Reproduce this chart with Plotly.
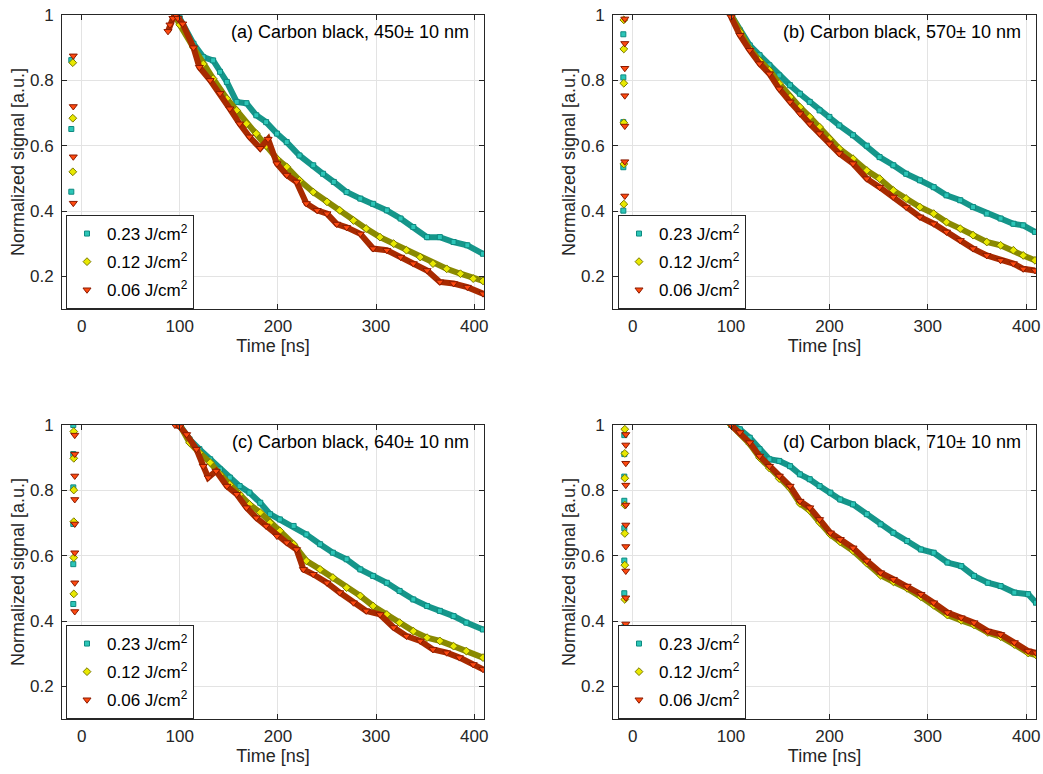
import plotly.graph_objects as go

# ---------------- data ----------------
series_names = ["0.23 J/cm<sup>2</sup>", "0.12 J/cm<sup>2</sup>", "0.06 J/cm<sup>2</sup>"]
panel_titles = ["(a) Carbon black, 450± 10 nm", "(b) Carbon black, 570± 10 nm",
                "(c) Carbon black, 640± 10 nm", "(d) Carbon black, 710± 10 nm"]
x_ticks = [0, 100, 200, 300, 400]
y_ticks = [0.2, 0.4, 0.6, 0.8, 1.0]
y_tick_labels = ["0.2", "0.4", "0.6", "0.8", "1"]

# panel (a)
a_teal_t = [96, 100, 114, 124, 134, 141, 148, 158, 168, 178, 188, 199, 209, 222, 236, 246, 257, 270, 284, 297, 311, 325, 338, 352, 365, 379, 393, 409]
a_teal_v = [0.995, 0.99, 0.912, 0.871, 0.861, 0.826, 0.795, 0.734, 0.73, 0.693, 0.672, 0.637, 0.611, 0.57, 0.54, 0.514, 0.489, 0.458, 0.438, 0.422, 0.402, 0.377, 0.351, 0.32, 0.32, 0.305, 0.295, 0.269]
a_olive_t = [95, 100, 114, 124, 134, 148, 158, 168, 178, 188, 199, 209, 222, 236, 250, 263, 277, 290, 304, 318, 331, 345, 358, 372, 386, 399, 409]
a_olive_v = [1.0, 0.97, 0.90, 0.85, 0.805, 0.744, 0.708, 0.667, 0.637, 0.60, 0.56, 0.535, 0.494, 0.458, 0.428, 0.402, 0.371, 0.346, 0.32, 0.30, 0.28, 0.259, 0.239, 0.223, 0.208, 0.193, 0.186]
a_red_t = [88, 90, 93, 96, 98, 103, 114, 120, 131, 141, 151, 161, 171, 182, 190, 199, 209, 219, 229, 240, 250, 260, 270, 284, 297, 311, 325, 338, 352, 365, 379, 393, 409]
a_red_v = [0.95, 0.97, 0.99, 1.0, 0.99, 0.973, 0.90, 0.84, 0.80, 0.76, 0.713, 0.667, 0.627, 0.592, 0.62, 0.545, 0.51, 0.489, 0.423, 0.402, 0.392, 0.36, 0.35, 0.33, 0.285, 0.28, 0.259, 0.239, 0.218, 0.183, 0.178, 0.167, 0.147]
a_teal_pre_t = [-10.5, -10.5, -10.5]
a_teal_pre_v = [0.862, 0.651, 0.459]
a_olive_pre_t = [-9, -9, -9, -9]
a_olive_pre_v = [0.854, 0.684, 0.52, 0.373]
a_red_pre_t = [-8.5, -8.5, -8.5, -8.5, -8.5]
a_red_pre_v = [0.875, 0.72, 0.566, 0.424, 0.11]

# panel (b)
b_t = [100, 109, 119, 129, 139, 149, 160, 170, 180, 190, 200, 210, 224, 238, 251, 265, 278, 292, 306, 319, 333, 346, 360, 374, 387, 397, 409]
b_teal_v = [1.0, 0.953, 0.907, 0.877, 0.846, 0.815, 0.785, 0.759, 0.734, 0.708, 0.688, 0.662, 0.632, 0.60, 0.565, 0.54, 0.514, 0.494, 0.473, 0.448, 0.433, 0.412, 0.392, 0.377, 0.361, 0.356, 0.336]
b_olive_v = [1.0, 0.948, 0.897, 0.861, 0.831, 0.79, 0.749, 0.718, 0.688, 0.657, 0.621, 0.591, 0.56, 0.524, 0.499, 0.463, 0.438, 0.412, 0.392, 0.366, 0.346, 0.326, 0.305, 0.295, 0.28, 0.264, 0.249]
b_red_v = [0.994, 0.938, 0.892, 0.851, 0.82, 0.774, 0.734, 0.698, 0.667, 0.637, 0.606, 0.576, 0.545, 0.499, 0.473, 0.443, 0.412, 0.382, 0.361, 0.336, 0.31, 0.285, 0.264, 0.249, 0.239, 0.223, 0.218]
b_teal_pre_t = [-9.5, -9.5, -9.5, -9.5, -9.5, -9.5]
b_teal_pre_v = [0.941, 0.809, 0.672, 0.534, 0.401, 0.10]
b_olive_pre_t = [-9, -9, -9, -9, -9, -9]
b_olive_pre_v = [0.985, 0.896, 0.791, 0.67, 0.544, 0.421]
b_red_pre_t = [-8, -8, -8, -8, -8, -8, -8]
b_red_pre_v = [0.988, 0.913, 0.837, 0.753, 0.66, 0.551, 0.446]

# panel (c)
c_t = [100, 110, 120, 131, 141, 151, 161, 171, 182, 192, 202, 216, 229, 243, 256, 270, 284, 297, 311, 324, 338, 352, 365, 379, 392, 409]
c_teal_v = [1.0, 0.956, 0.926, 0.895, 0.864, 0.839, 0.813, 0.793, 0.762, 0.727, 0.711, 0.691, 0.665, 0.635, 0.609, 0.589, 0.558, 0.538, 0.517, 0.492, 0.466, 0.446, 0.431, 0.415, 0.395, 0.374]
c_olive_v = [1.0, 0.946, 0.915, 0.885, 0.849, 0.818, 0.788, 0.757, 0.732, 0.701, 0.676, 0.635, 0.584, 0.558, 0.533, 0.502, 0.477, 0.446, 0.42, 0.395, 0.369, 0.349, 0.339, 0.323, 0.308, 0.288]
c_red_t = [95, 100, 107, 117, 124, 129, 137, 148, 158, 168, 178, 188, 199, 209, 219, 226, 236, 250, 263, 277, 290, 304, 318, 331, 345, 358, 372, 385, 399, 409]
c_red_v = [1.0, 0.995, 0.971, 0.926, 0.874, 0.839, 0.859, 0.813, 0.788, 0.747, 0.716, 0.691, 0.66, 0.64, 0.619, 0.558, 0.543, 0.517, 0.487, 0.456, 0.431, 0.42, 0.38, 0.354, 0.339, 0.313, 0.303, 0.288, 0.267, 0.252]
c_teal_pre_t = [-8.5, -8.5, -8.5, -8.5, -8.5, -8.5]
c_teal_pre_v = [1.0, 0.911, 0.809, 0.697, 0.574, 0.452]
c_olive_pre_t = [-8, -8, -8, -8, -8, -8, -8, -8]
c_olive_pre_v = [0.98, 0.898, 0.801, 0.704, 0.594, 0.483, 0.37, 0.097]
c_red_pre_t = [-7, -7, -7, -7, -7, -7, -7, -7, -7]
c_red_pre_v = [0.969, 0.911, 0.844, 0.772, 0.697, 0.609, 0.517, 0.429, 0.1]

# panel (d)
d_t = [100, 109, 119, 129, 139, 149, 160, 170, 180, 190, 201, 211, 224, 238, 252, 265, 279, 293, 306, 320, 334, 347, 361, 374, 388, 402, 410]
d_teal_v = [1.0, 0.987, 0.961, 0.926, 0.895, 0.89, 0.874, 0.849, 0.834, 0.813, 0.793, 0.772, 0.757, 0.727, 0.696, 0.67, 0.645, 0.619, 0.609, 0.579, 0.568, 0.538, 0.517, 0.507, 0.487, 0.482, 0.456]
d_olive_v = [1.0, 0.975, 0.942, 0.9, 0.868, 0.836, 0.806, 0.76, 0.738, 0.702, 0.665, 0.642, 0.615, 0.577, 0.54, 0.52, 0.5, 0.474, 0.448, 0.418, 0.402, 0.388, 0.365, 0.352, 0.328, 0.302, 0.296]
d_red_v = [1.0, 0.977, 0.946, 0.905, 0.874, 0.844, 0.813, 0.767, 0.747, 0.711, 0.67, 0.65, 0.624, 0.584, 0.548, 0.528, 0.507, 0.482, 0.456, 0.426, 0.41, 0.395, 0.369, 0.359, 0.334, 0.308, 0.303]
d_teal_pre_t = [-8.5] * 8
d_teal_pre_v = [0.969, 0.911, 0.842, 0.768, 0.684, 0.585, 0.485, 0.381]
d_olive_pre_t = [-8] * 9
d_olive_pre_v = [0.987, 0.913, 0.837, 0.755, 0.668, 0.571, 0.466, 0.374, 0.11]
d_red_pre_t = [-7] * 10
d_red_pre_v = [0.971, 0.939, 0.883, 0.816, 0.755, 0.694, 0.628, 0.553, 0.471, 0.391]

panels = [
    [(a_teal_pre_t, a_teal_pre_v, a_teal_t, a_teal_v),
     (a_olive_pre_t, a_olive_pre_v, a_olive_t, a_olive_v),
     (a_red_pre_t, a_red_pre_v, a_red_t, a_red_v)],
    [(b_teal_pre_t, b_teal_pre_v, b_t, b_teal_v),
     (b_olive_pre_t, b_olive_pre_v, b_t, b_olive_v),
     (b_red_pre_t, b_red_pre_v, b_t, b_red_v)],
    [(c_teal_pre_t, c_teal_pre_v, c_t, c_teal_v),
     (c_olive_pre_t, c_olive_pre_v, c_t, c_olive_v),
     (c_red_pre_t, c_red_pre_v, c_red_t, c_red_v)],
    [(d_teal_pre_t, d_teal_pre_v, d_t, d_teal_v),
     (d_olive_pre_t, d_olive_pre_v, d_t, d_olive_v),
     (d_red_pre_t, d_red_pre_v, d_t, d_red_v)],
]

# ---------------- styles ----------------
FONT = "Liberation Sans, Arial, Helvetica, sans-serif"
W, H = 1043, 774
styles = [
    dict(symbol="square", size=5, fill="#2cc6b8", edge="#0e8a80", band="#15968a"),
    dict(symbol="diamond", size=6, fill="#e8e800", edge="#7a7a00", band="#8a8a00"),
    dict(symbol="triangle-down", size=7, fill="#ff4a10", edge="#8a1a00", band="#a82a00"),
]
x_domains = [(62 / W, 484 / W), (613 / W, 1036 / W), (62 / W, 484 / W), (613 / W, 1036 / W)]
y_domains = [(1 - 309 / H, 1 - 15 / H), (1 - 309 / H, 1 - 15 / H),
             (1 - 719 / H, 1 - 425 / H), (1 - 719 / H, 1 - 425 / H)]
legend_pos = [(66 / W, 1 - 309 / H), (618 / W, 1 - 309 / H),
              (66 / W, 1 - 719 / H), (618 / W, 1 - 719 / H)]
title_pos = [(471 / W, 1 - 32 / H), (1023 / W, 1 - 32 / H),
             (471 / W, 1 - 442 / H), (1023 / W, 1 - 442 / H)]

fig = go.Figure()
layout = dict(width=W, height=H, margin=dict(l=0, r=0, t=0, b=0),
              plot_bgcolor="white", paper_bgcolor="white",
              font=dict(family=FONT, size=17, color="#262626"),
              annotations=[])

for p, series in enumerate(panels):
    ax = "" if p == 0 else str(p + 1)
    lg = "legend" if p == 0 else f"legend{p + 1}"
    for s, (pre_t, pre_v, t, v) in enumerate(series):
        st = styles[s]
        # thick band through the main decay samples
        fig.add_trace(go.Scatter(
            x=t, y=v, mode="lines", xaxis="x" + ax, yaxis="y" + ax,
            line=dict(color=st["band"], width=6), showlegend=False, hoverinfo="skip"))
        fig.add_trace(go.Scatter(
            x=pre_t + t, y=pre_v + v, mode="markers", xaxis="x" + ax, yaxis="y" + ax,
            name=series_names[s], legend=lg, legendgroup=f"p{p}s{s}",
            marker=dict(symbol=st["symbol"], size=st["size"], color=st["fill"],
                        line=dict(color=st["edge"], width=1))))
    xd, yd = x_domains[p], y_domains[p]
    common = dict(showline=True, linecolor="#262626", linewidth=1, mirror="ticks",
                  ticks="inside", ticklen=5, tickcolor="#262626", automargin=False,
                  ticklabeloverflow="allow",
                  showgrid=True, gridcolor="#e3e3e3", gridwidth=1, zeroline=False,
                  tickfont=dict(size=17, color="#262626", family=FONT))
    layout["xaxis" + ax] = dict(common, domain=list(xd), range=[-20, 410], tickvals=x_ticks,
                                anchor="y" + ax, ticklabelstandoff=2,
                                title=dict(text="Time [ns]", font=dict(size=18, color="#262626"), standoff=0))
    layout["yaxis" + ax] = dict(common, domain=list(yd), range=[0.1, 1.0], tickvals=y_ticks,
                                ticktext=y_tick_labels, anchor="x" + ax, ticklabelstandoff=4,
                                title=dict(text="Normalized signal [a.u.]", font=dict(size=18, color="#262626"), standoff=0))
    lx, ly = legend_pos[p]
    layout[lg] = dict(x=lx, y=ly, xanchor="left", yanchor="bottom", xref="paper", yref="paper",
                      bgcolor="white", bordercolor="#262626", borderwidth=1,
                      font=dict(size=17, color="#000000", family=FONT),
                      traceorder="grouped", tracegroupgap=3, itemwidth=30)
    tx, ty = title_pos[p]
    layout["annotations"].append(dict(
        text=panel_titles[p], x=tx, y=ty, xref="paper", yref="paper",
        xanchor="right", yanchor="middle", showarrow=False,
        font=dict(size=18, color="#000000", family=FONT)))

fig.update_layout(**layout)
fig.write_html("out.html", config={"displayModeBar": False},
               post_script="document.body.style.margin='0';document.body.style.overflow='hidden';")
